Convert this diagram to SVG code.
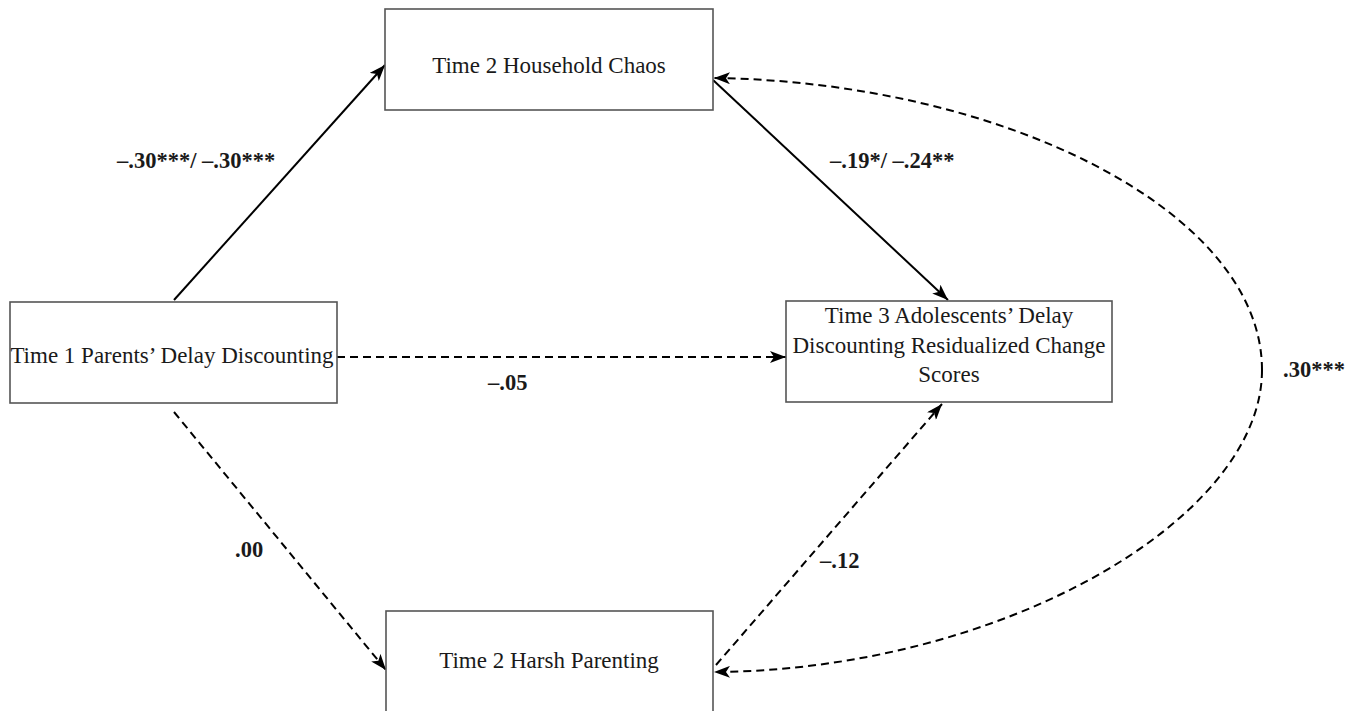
<svg xmlns="http://www.w3.org/2000/svg" width="1362" height="711" viewBox="0 0 1362 711">
<style>
.box{fill:#fff;stroke:#555;stroke-width:1.6}
.nt{font-family:"Liberation Serif","Times New Roman",serif;font-size:23px;fill:#1a1a1a;text-anchor:middle}
.lb{font-family:"Liberation Serif","Times New Roman",serif;font-size:22.5px;font-weight:bold;fill:#1a1a1a}
.ln{fill:none;stroke:#000;stroke-width:2}
.ds{stroke-dasharray:8,5}
</style>
<defs>
<marker id="ah" viewBox="0 0 16 12" refX="16" refY="6" markerWidth="16" markerHeight="12" markerUnits="userSpaceOnUse" orient="auto">
<path d="M0,0 L16,6 L0,12 L4,6 Z" fill="#000"/>
</marker>
</defs>
<rect width="1362" height="711" fill="#fff"/>
<g id="connectors">
<line class="ln" x1="174" y1="300" x2="385" y2="65" marker-end="url(#ah)"/>
<line class="ln" x1="713" y1="80" x2="948" y2="300" marker-end="url(#ah)"/>
<line class="ln ds" x1="337" y1="357" x2="786" y2="357" marker-end="url(#ah)"/>
<line class="ln ds" x1="174" y1="412" x2="386" y2="670" marker-end="url(#ah)"/>
<line class="ln ds" x1="716" y1="665" x2="942" y2="404" marker-end="url(#ah)"/>
<path class="ln ds" d="M1262,370 C1262,210 1000,82 714,78" marker-end="url(#ah)"/>
<path class="ln ds" d="M1262,370 C1262,520 1000,670 714,672" marker-end="url(#ah)"/>
</g>
<g id="n_chaos">
<rect class="box" x="385" y="9" width="328" height="101"/>
<text class="nt" x="549" y="73">Time 2 Household Chaos</text>
</g>
<g id="n_parents">
<rect class="box" x="10" y="302" width="327" height="101"/>
<text class="nt" x="172" y="363">Time 1 Parents’ Delay Discounting</text>
</g>
<g id="n_adol">
<rect class="box" x="786" y="301" width="326" height="101"/>
<text class="nt" x="949" y="323">Time 3 Adolescents’ Delay</text>
<text class="nt" x="949" y="353">Discounting Residualized Change</text>
<text class="nt" x="949" y="382">Scores</text>
</g>
<g id="n_harsh">
<rect class="box" x="386" y="611" width="327" height="110"/>
<text class="nt" x="549" y="668">Time 2 Harsh Parenting</text>
</g>
<g id="labels">
<text class="lb" x="117" y="168">–.30***/ –.30***</text>
<text class="lb" x="830" y="168">–.19*/ –.24**</text>
<text class="lb" x="488" y="390">–.05</text>
<text class="lb" x="1283" y="377">.30***</text>
<text class="lb" x="235" y="557">.00</text>
<text class="lb" x="820" y="568">–.12</text>
</g>
</svg>
